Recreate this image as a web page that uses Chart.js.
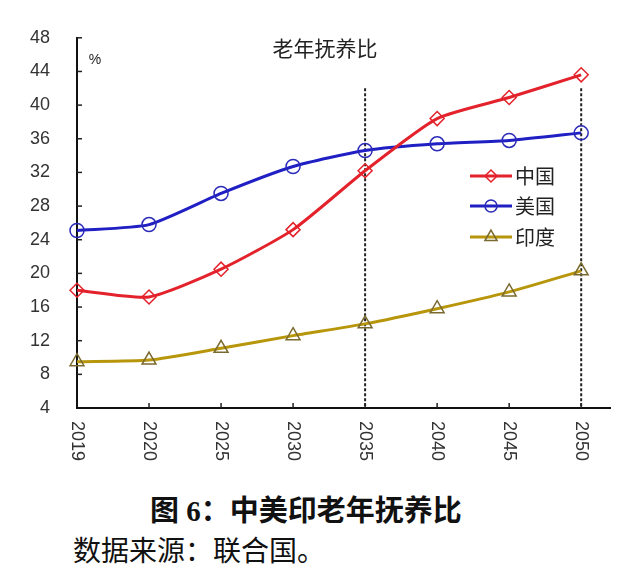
<!DOCTYPE html>
<html>
<head>
<meta charset="utf-8">
<script src="https://cdn.jsdelivr.net/npm/chart.js@4.4.1/dist/chart.umd.min.js"></script>
<style>
  body { margin: 0; background: #fff; width: 623px; height: 582px; position: relative; overflow: hidden; }
  #wrap { position: absolute; left: 0; top: 0; width: 623px; height: 480px; }
  #cap1 { position: absolute; left: 150px; top: 494px; font: bold 29px/34px "Liberation Serif", "Noto Sans CJK SC"; color: #111; white-space: nowrap; }
  #cap2 { position: absolute; left: 73px; top: 535px; font: 28px/34px "Liberation Serif", "Noto Sans CJK SC"; color: #111; white-space: nowrap; }
</style>
</head>
<body>
<div id="wrap"><canvas id="chart" width="623" height="480"></canvas></div>
<div id="cap1">图 6：中美印老年抚养比</div>
<div id="cap2">数据来源：联合国。</div>
<script>
// data (%)
const years = ["2019", "2020", "2025", "2030", "2035", "2040", "2045", "2050"];
const china = [18.0, 17.2, 20.5, 25.2, 32.2, 38.4, 40.9, 43.6];
const usa = [25.1, 25.8, 29.5, 32.7, 34.6, 35.4, 35.8, 36.7];
const india = [9.5, 9.7, 11.1, 12.6, 14.0, 15.8, 17.8, 20.3];
const seriesNames = ["中国", "美国", "印度"];
const yTicks = [4, 8, 12, 16, 20, 24, 28, 32, 36, 40, 44, 48];
const dashedYears = ["2035", "2050"];
const dashedTop = 42;

const axisFont = { family: "Liberation Sans, Arial", size: 18 };
const cjk = "'Noto Sans CJK SC', sans-serif";

function toPoints(arr) {
    return arr.map((v, i) => ({ x: i, y: v }));
}

// dashed reference lines, inner tick marks, rotated year labels, title, legend
const extras = {
    id: "extras",
    beforeDatasetsDraw(chart) {
        const { ctx, scales: { x, y } } = chart;
        ctx.save();
        ctx.strokeStyle = "#222";
        ctx.lineWidth = 2;
        ctx.setLineDash([3, 2]);
        dashedYears.forEach(yr => {
            const px = x.getPixelForValue(years.indexOf(yr));
            ctx.beginPath();
            ctx.moveTo(px, y.getPixelForValue(dashedTop));
            ctx.lineTo(px, y.getPixelForValue(y.min));
            ctx.stroke();
        });
        ctx.restore();
    },
    afterDraw(chart) {
        const { ctx, scales: { x, y } } = chart;
        const left = x.getPixelForValue(0);
        const bottom = y.getPixelForValue(y.min);
        ctx.save();

        // small inner ticks
        ctx.strokeStyle = "#222";
        ctx.lineWidth = 1.5;
        yTicks.slice(1).forEach(v => {
            const py = y.getPixelForValue(v);
            ctx.beginPath(); ctx.moveTo(left, py); ctx.lineTo(left + 5, py); ctx.stroke();
        });
        years.forEach((yr, i) => {
            if (i === 0) return;
            const px = x.getPixelForValue(i);
            ctx.beginPath(); ctx.moveTo(px, bottom); ctx.lineTo(px, bottom - 5); ctx.stroke();
        });

        // year labels, turned clockwise
        ctx.fillStyle = "#333";
        ctx.font = "18px " + axisFont.family;
        ctx.textAlign = "left";
        ctx.textBaseline = "middle";
        years.forEach((yr, i) => {
            ctx.save();
            ctx.translate(x.getPixelForValue(i), bottom + 13);
            ctx.rotate(Math.PI / 2);
            ctx.fillText(yr, 0, 0);
            ctx.restore();
        });

        // title and unit
        ctx.fillStyle = "#222";
        ctx.textAlign = "center";
        ctx.font = "21px " + cjk;
        ctx.fillText("老年抚养比", 325, 48);
        ctx.font = "14px " + axisFont.family;
        ctx.fillText("%", 95, 60);

        // legend
        const rows = [176, 206, 237];
        chart.data.datasets.forEach((ds, i) => {
            const ry = rows[i];
            ctx.strokeStyle = ds.borderColor;
            ctx.lineWidth = 3;
            ctx.setLineDash([]);
            ctx.beginPath(); ctx.moveTo(470, ry); ctx.lineTo(512, ry); ctx.stroke();
            ctx.strokeStyle = ds.pointBorderColor;
            ctx.fillStyle = "rgba(0,0,0,0)";
            ctx.lineWidth = ds.pointBorderWidth;
            if (Chart.helpers && Chart.helpers.drawPoint) {
                Chart.helpers.drawPoint(ctx, { pointStyle: ds.pointStyle, radius: ds.pointRadius - 1, borderWidth: ds.pointBorderWidth, rotation: 0 }, 491, ry);
            }
            ctx.fillStyle = "#222";
            ctx.font = "20px " + cjk;
            ctx.textAlign = "left";
            ctx.fillText(ds.label, 515, ry);
        });
        ctx.restore();
    }
};

const chart = new Chart(document.getElementById("chart"), {
    type: "line",
    data: {
        datasets: [
            { label: seriesNames[0], data: toPoints(china), borderColor: "#e3222b", pointStyle: "rectRot", pointRadius: 7,
              pointBorderColor: "#e3222b", pointBorderWidth: 1.5 },
            { label: seriesNames[1], data: toPoints(usa), borderColor: "#1f1fc4", pointStyle: "circle", pointRadius: 7,
              pointBorderColor: "#2a2ab8", pointBorderWidth: 1.5 },
            { label: seriesNames[2], data: toPoints(india), borderColor: "#b8960c", pointStyle: "triangle", pointRadius: 8,
              pointBorderColor: "#7a6a30", pointBorderWidth: 1.5 }
        ].map(d => Object.assign({ borderWidth: 3, tension: 0.2, clip: false, pointBackgroundColor: "rgba(0,0,0,0)" }, d))
    },
    options: {
        responsive: false,
        animation: false,
        layout: { padding: { left: 0, right: 13, top: 34, bottom: 0 } },
        plugins: { legend: { display: false }, tooltip: { enabled: false } },
        scales: {
            x: {
                type: "linear", min: 0, max: 7.4,
                grid: { display: false, drawTicks: false },
                border: { color: "#111", width: 2 },
                ticks: { display: false },
                afterFit(s) { s.height = 72; }
            },
            y: {
                min: 4, max: 48,
                afterBuildTicks(s) { s.ticks = yTicks.map(v => ({ value: v })); },
                grid: { display: false, drawTicks: false },
                border: { color: "#111", width: 2 },
                ticks: { font: axisFont, color: "#333", padding: 27 },
                afterFit(s) { s.width = 77; }
            }
        }
    },
    plugins: [extras]
});
</script>
</body>
</html>
